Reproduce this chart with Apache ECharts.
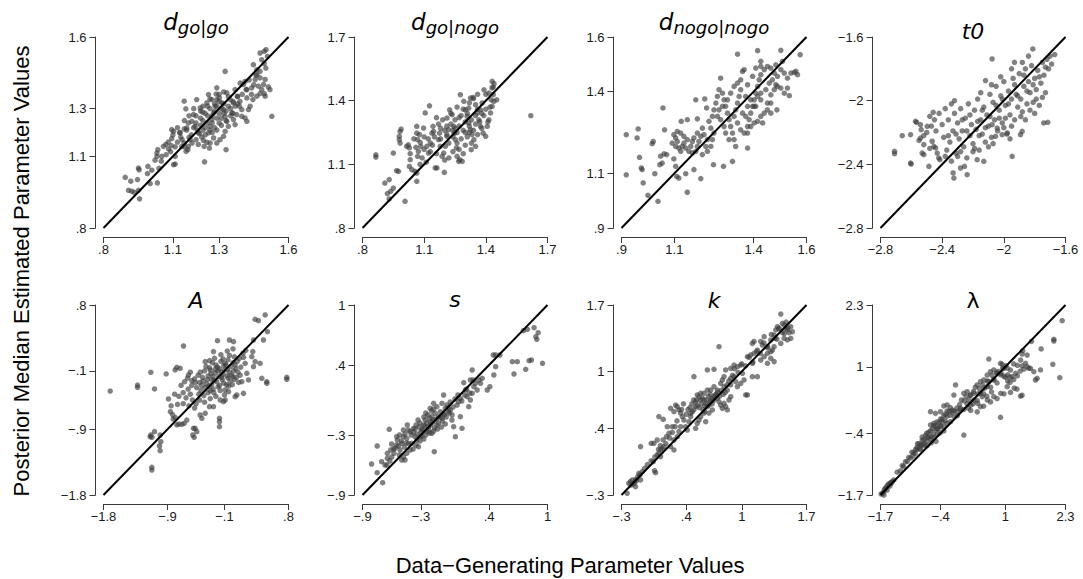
<!DOCTYPE html>
<html><head><meta charset="utf-8">
<script src="https://cdn.jsdelivr.net/npm/echarts@6/dist/echarts.min.js"></script>
<style>html,body{margin:0;padding:0;background:#fff}#c{width:1083px;height:579px}</style>
</head><body><div id="c"></div><script>
// ---------- tick labels ----------
const ticksDGoGo = [0.8, 1.1, 1.3, 1.6];
const ticksDGoNogo = [0.8, 1.1, 1.4, 1.7];
const ticksDNogoNogo = [0.9, 1.1, 1.4, 1.6];
const ticksT0 = [-2.8, -2.4, -2, -1.6];
const ticksA = [-1.8, -0.9, -0.1, 0.8];
const ticksS = [-0.9, -0.3, 0.4, 1];
const ticksK = [-0.3, 0.4, 1, 1.7];
const ticksLambda = [-1.7, -0.4, 1, 2.3];

// ---------- panel titles ----------
const panelTitles = ['{m|d}{s|go|go}', '{m|d}{s|go|nogo}', '{m|d}{s|nogo|nogo}', '{i|t0}', '{i|A}', '{i|s}', '{i|k}', '{u|λ}'];
const xAxisTitle = 'Data\u2212Generating Parameter Values';
const yAxisTitle = 'Posterior Median Estimated Parameter Values';

// ---------- data: [data-generating, posterior median] ----------
const dGoGo = [[0.894,1.012],[0.918,0.996],[0.908,0.958],[0.922,0.954],[0.933,0.949],[0.956,0.922],[0.951,0.958],[0.947,1.003],[0.954,1.044],[0.951,1.051],[0.990,1.028],[1.002,0.986],[1.033,0.989],[0.992,1.058],[1.009,1.042],[1.023,1.084],[1.031,1.100],[1.035,1.128],[1.031,1.114],[1.052,1.100],[1.059,1.142],[1.071,1.107],[1.081,1.131],[1.093,1.145],[1.095,1.174],[1.103,1.205],[1.095,1.212],[1.110,1.068],[1.103,1.065],[1.110,1.100],[1.134,1.181],[1.131,1.198],[1.139,1.142],[1.149,1.156],[1.157,1.121],[1.165,1.128],[1.167,1.142],[1.175,1.170],[1.183,1.156],[1.160,1.219],[1.149,1.215],[1.149,1.331],[1.156,1.299],[1.203,1.338],[1.218,1.303],[1.229,1.285],[1.189,1.275],[1.182,1.247],[1.167,1.240],[1.196,1.226],[1.206,1.209],[1.215,1.195],[1.225,1.181],[1.232,1.167],[1.235,1.142],[1.247,1.159],[1.254,1.198],[1.261,1.226],[1.268,1.254],[1.276,1.282],[1.283,1.310],[1.290,1.338],[1.301,1.345],[1.312,1.324],[1.319,1.296],[1.326,1.268],[1.333,1.247],[1.340,1.226],[1.326,1.205],[1.319,1.184],[1.304,1.170],[1.290,1.156],[1.276,1.177],[1.261,1.156],[1.258,1.135],[1.237,1.077],[1.330,1.128],[1.326,1.456],[1.290,1.387],[1.254,1.359],[1.247,1.324],[1.268,1.338],[1.287,1.361],[1.333,1.366],[1.348,1.338],[1.362,1.324],[1.369,1.380],[1.379,1.352],[1.388,1.310],[1.398,1.296],[1.391,1.407],[1.405,1.401],[1.412,1.414],[1.417,1.380],[1.420,1.345],[1.427,1.296],[1.434,1.310],[1.355,1.282],[1.362,1.254],[1.369,1.233],[1.376,1.275],[1.398,1.268],[1.412,1.261],[1.420,1.247],[1.441,1.387],[1.456,1.422],[1.463,1.442],[1.470,1.394],[1.477,1.429],[1.484,1.380],[1.492,1.401],[1.499,1.422],[1.477,1.456],[1.448,1.484],[1.463,1.463],[1.484,1.505],[1.495,1.489],[1.502,1.470],[1.477,1.533],[1.495,1.540],[1.503,1.547],[1.509,1.519],[1.499,1.352],[1.513,1.391],[1.520,1.380],[1.495,1.363],[1.446,1.338],[1.463,1.352],[1.477,1.363],[1.528,1.268],
[1.18,1.19],[1.19,1.22],[1.20,1.24],[1.21,1.20],[1.22,1.23],[1.22,1.26],[1.23,1.21],[1.23,1.25],[1.24,1.22],[1.24,1.28],[1.25,1.24],[1.25,1.27],[1.26,1.21],[1.26,1.30],[1.27,1.24],[1.27,1.27],[1.28,1.22],[1.28,1.29],[1.29,1.26],[1.29,1.31],[1.30,1.24],[1.30,1.28],[1.31,1.30],[1.31,1.26],[1.32,1.28],[1.32,1.32],[1.33,1.29],[1.34,1.31],[1.35,1.30],[1.36,1.33],[1.37,1.31],[1.38,1.35],[1.17,1.18],[1.16,1.21],[1.14,1.17],[1.13,1.20],[1.12,1.16],[1.20,1.17],[1.21,1.15],[1.24,1.19],[1.27,1.20],[1.29,1.21],[1.31,1.23],[1.33,1.25],[1.35,1.27],[1.28,1.32],[1.30,1.33],[1.25,1.31],[1.22,1.29],[1.20,1.27],[1.39,1.33],[1.40,1.36],[1.42,1.38],[1.44,1.36],[1.45,1.40],[1.46,1.44],[1.43,1.42],[1.09,1.12],[1.07,1.15],[1.05,1.08],[1.04,1.05],[1.11,1.14],[1.15,1.14],[1.36,1.28],[1.38,1.32],[1.34,1.35],[1.32,1.37],[1.30,1.36],[1.26,1.34],[1.23,1.31],[1.19,1.30],[1.17,1.27],[1.15,1.25],[1.12,1.22],[1.10,1.19],[1.08,1.16]];

const dGoNogo = [[0.865,1.145],[0.865,1.134],[0.909,1.012],[0.930,1.028],[0.937,0.973],[0.921,0.962],[0.930,0.937],[0.950,0.988],[0.966,1.070],[0.975,1.067],[1.007,0.926],[0.950,1.153],[0.979,1.232],[0.979,1.216],[0.983,1.200],[0.988,1.266],[0.983,1.255],[1.015,1.185],[1.023,1.192],[1.028,1.177],[1.032,1.150],[1.032,1.122],[1.028,1.090],[1.040,1.075],[1.056,1.067],[1.064,1.059],[1.064,1.020],[1.068,1.138],[1.072,1.161],[1.068,1.216],[1.064,1.279],[1.064,1.247],[1.077,1.240],[1.081,1.203],[1.084,1.185],[1.097,1.271],[1.100,1.229],[1.105,1.342],[1.126,1.376],[1.113,1.185],[1.121,1.153],[1.130,1.200],[1.138,1.247],[1.143,1.279],[1.146,1.255],[1.154,1.083],[1.162,1.083],[1.170,1.216],[1.175,1.247],[1.178,1.185],[1.187,1.138],[1.198,1.062],[1.195,1.153],[1.203,1.185],[1.211,1.232],[1.219,1.263],[1.211,1.318],[1.224,1.357],[1.236,1.334],[1.244,1.279],[1.247,1.247],[1.252,1.216],[1.257,1.177],[1.260,1.138],[1.268,1.114],[1.273,1.122],[1.285,1.114],[1.276,1.428],[1.293,1.397],[1.301,1.357],[1.309,1.326],[1.317,1.295],[1.325,1.263],[1.333,1.240],[1.342,1.216],[1.350,1.185],[1.329,1.169],[1.317,1.365],[1.325,1.412],[1.338,1.415],[1.350,1.381],[1.358,1.342],[1.366,1.310],[1.374,1.279],[1.387,1.247],[1.399,1.232],[1.407,1.279],[1.415,1.310],[1.423,1.342],[1.431,1.373],[1.426,1.404],[1.436,1.428],[1.439,1.397],[1.431,1.491],[1.436,1.464],[1.415,1.436],[1.453,1.404],[1.391,1.451],[1.382,1.389],[1.374,1.357],[1.619,1.329],
[1.18,1.22],[1.20,1.26],[1.22,1.20],[1.23,1.29],[1.24,1.23],[1.25,1.31],[1.26,1.25],[1.26,1.20],[1.27,1.28],[1.28,1.22],[1.28,1.33],[1.29,1.26],[1.30,1.30],[1.30,1.19],[1.31,1.23],[1.31,1.34],[1.32,1.28],[1.33,1.31],[1.33,1.20],[1.34,1.26],[1.35,1.33],[1.36,1.24],[1.36,1.36],[1.37,1.30],[1.38,1.27],[1.39,1.33],[1.40,1.36],[1.41,1.30],[1.42,1.37],[1.27,1.17],[1.29,1.15],[1.24,1.16],[1.22,1.13],[1.20,1.12],[1.16,1.15],[1.14,1.19],[1.12,1.22],[1.10,1.17],[1.09,1.13],[1.08,1.10],[1.06,1.18],[1.05,1.22],[1.17,1.29],[1.19,1.31],[1.21,1.28],[1.23,1.34],[1.26,1.37],[1.29,1.36],[1.32,1.39],[1.34,1.41],[1.36,1.43],[1.21,1.24],[1.25,1.27],[1.32,1.25],[1.35,1.29],[1.38,1.34],[1.30,1.25],[1.27,1.32],[1.24,1.26],[1.18,1.27],[1.15,1.23],[1.13,1.16],[1.11,1.11],[1.16,1.32],[1.40,1.43],[1.43,1.46],[1.44,1.48]];

const dNogoNogo = [[0.918,1.242],[0.918,1.095],[0.963,1.263],[0.959,1.230],[0.968,1.159],[0.978,1.114],[0.975,1.120],[0.982,1.065],[1.000,1.020],[1.038,0.998],[1.026,1.099],[1.020,1.217],[1.016,1.209],[1.045,1.132],[1.054,1.138],[1.048,1.163],[1.061,1.172],[1.071,1.169],[1.057,1.340],[1.063,1.260],[1.098,1.242],[1.105,1.230],[1.111,1.217],[1.098,1.153],[1.105,1.126],[1.109,1.089],[1.117,1.083],[1.143,1.099],[1.149,1.031],[1.126,1.291],[1.149,1.297],[1.187,1.300],[1.181,1.370],[1.215,1.373],[1.222,1.340],[1.206,1.266],[1.200,1.081],[1.174,1.114],[1.248,1.132],[1.286,1.126],[1.320,1.144],[1.377,1.193],[1.275,1.449],[1.339,1.537],[1.415,1.550],[1.427,1.511],[1.503,1.551],[1.576,1.535],[1.554,1.470],[1.566,1.462],[1.535,1.385],[1.488,1.333],[1.465,1.358],
[1.092,1.211],[1.105,1.199],[1.117,1.193],[1.124,1.181],[1.130,1.199],[1.136,1.211],[1.143,1.193],[1.155,1.181],[1.162,1.199],[1.168,1.217],[1.174,1.230],[1.149,1.224],[1.136,1.236],[1.124,1.248],[1.111,1.254],[1.168,1.175],[1.181,1.181],[1.187,1.199],[1.193,1.217],[1.200,1.236],[1.187,1.248],[1.212,1.242],[1.225,1.224],[1.219,1.199],[1.206,1.169],[1.225,1.181],[1.238,1.199],[1.244,1.224],[1.250,1.248],[1.238,1.266],[1.231,1.291],[1.244,1.309],[1.250,1.333],[1.257,1.358],[1.263,1.382],[1.269,1.407],[1.282,1.394],[1.288,1.370],[1.294,1.346],[1.301,1.321],[1.307,1.297],[1.313,1.272],[1.320,1.248],[1.326,1.224],[1.332,1.199],[1.307,1.224],[1.294,1.248],[1.288,1.272],[1.275,1.297],[1.263,1.309],[1.269,1.333],[1.282,1.346],[1.301,1.370],[1.313,1.394],[1.326,1.419],[1.339,1.431],[1.351,1.443],[1.358,1.474],[1.364,1.480],[1.351,1.407],[1.345,1.382],[1.339,1.358],[1.332,1.333],[1.326,1.309],[1.339,1.285],[1.351,1.260],[1.364,1.248],[1.377,1.272],[1.383,1.297],[1.389,1.321],[1.396,1.346],[1.402,1.370],[1.408,1.394],[1.415,1.419],[1.421,1.443],[1.427,1.462],[1.440,1.480],[1.452,1.492],[1.465,1.486],[1.478,1.468],[1.490,1.456],[1.503,1.480],[1.516,1.468],[1.528,1.449],[1.541,1.468],[1.560,1.474],[1.490,1.419],[1.478,1.407],[1.465,1.388],[1.452,1.358],[1.440,1.321],[1.427,1.309],[1.415,1.291],[1.402,1.285],[1.389,1.272],[1.377,1.248],[1.370,1.309],[1.358,1.321],[1.377,1.346],[1.389,1.370],[1.402,1.346],[1.427,1.370],[1.446,1.407],[1.459,1.431],[1.471,1.443],[1.484,1.425],[1.503,1.413],[1.516,1.394],[1.528,1.413],[1.427,1.394],[1.415,1.382],[1.465,1.321],[1.452,1.333],[1.434,1.285],[1.408,1.346],[1.370,1.382],[1.377,1.425],[1.396,1.456],[1.408,1.486],[1.427,1.492],[1.484,1.498],[1.509,1.511]];

const t0 = [[-2.709,-2.318],[-2.709,-2.333],[-2.659,-2.220],[-2.605,-2.214],[-2.605,-2.392],[-2.601,-2.398],[-2.573,-2.130],[-2.566,-2.136],[-2.541,-2.151],[-2.536,-2.182],[-2.541,-2.235],[-2.519,-2.276],[-2.530,-2.329],[-2.519,-2.339],[-2.497,-2.161],[-2.486,-2.413],[-2.480,-2.098],[-2.458,-2.073],[-2.465,-2.255],[-2.454,-2.287],[-2.443,-2.297],[-2.432,-2.329],[-2.422,-2.360],[-2.415,-2.371],
[-2.40,-2.15],[-2.39,-2.23],[-2.37,-2.31],[-2.36,-2.12],[-2.35,-2.26],[-2.33,-2.19],[-2.32,-2.08],[-2.31,-2.33],[-2.30,-2.14],[-2.29,-2.24],[-2.28,-2.05],[-2.27,-2.19],[-2.26,-2.29],[-2.25,-2.11],[-2.24,-2.36],[-2.23,-2.02],[-2.22,-2.22],[-2.21,-2.15],[-2.20,-2.27],[-2.19,-2.06],[-2.18,-2.18],[-2.17,-1.99],[-2.16,-2.31],[-2.15,-2.12],[-2.14,-2.21],[-2.13,-2.04],[-2.12,-2.26],[-2.11,-2.09],[-2.10,-2.16],[-2.09,-1.96],[-2.08,-2.23],[-2.07,-2.01],[-2.06,-2.12],[-2.05,-1.91],[-2.04,-2.19],[-2.03,-2.06],[-2.02,-1.97],[-2.01,-2.14],[-2.00,-1.88],[-1.99,-2.03],[-1.98,-2.21],[-1.97,-1.94],[-1.96,-2.09],[-1.95,-1.99],[-1.94,-1.86],[-1.93,-2.12],[-1.92,-1.96],[-1.91,-2.04],[-1.90,-1.83],[-1.89,-1.99],[-1.88,-2.07],[-1.87,-1.91],[-1.86,-1.80],[-1.85,-2.02],[-1.84,-1.88],[-1.83,-1.95],[-1.82,-1.78],[-1.81,-2.01],[-1.80,-1.86],[-1.79,-1.93],[-1.78,-1.81],[-1.77,-2.03],[-1.76,-1.89],[-1.75,-1.76],[-1.74,-1.84],[-1.73,-1.95],[-1.72,-1.74],[-1.71,-1.80],[-1.70,-1.72],[-1.69,-1.77],[-1.67,-1.71],
[-2.329,-2.454],[-2.324,-2.486],[-2.238,-2.465],[-2.255,-2.413],[-2.281,-2.423],[-2.173,-2.371],[-2.130,-2.381],[-1.946,-2.350],[-1.892,-2.214],[-1.881,-2.193],[-1.741,-2.140],[-1.715,-2.136],[-2.011,-2.214],[-1.978,-2.203],[-2.076,-2.151],[-2.054,-2.224],[-2.043,-2.172],[-2.119,-1.874],[-2.076,-1.738],[-1.812,-1.675],[-1.931,-1.759],[-2.320,-2.000],
[-2.38,-2.05],[-2.34,-2.02],[-2.31,-2.21],[-2.27,-2.12],[-2.24,-2.19],[-2.22,-2.09],[-2.19,-2.30],[-2.17,-2.13],[-2.14,-2.06],[-2.12,-2.17],[-2.09,-2.10],[-2.07,-2.27],[-2.05,-2.03],[-2.03,-2.11],[-2.01,-1.99],[-1.99,-2.11],[-1.97,-2.02],[-1.95,-2.16],[-1.93,-1.90],[-1.91,-1.97],[-1.89,-2.10],[-1.87,-1.84],[-1.85,-1.94],[-1.83,-2.06],[-1.81,-1.90],[-1.79,-1.99],[-1.77,-1.85],[-1.75,-1.98],[-1.73,-1.79],[-2.50,-2.20],[-2.47,-2.16],[-2.45,-2.12],[-2.52,-2.22],[-2.48,-2.30],[-2.55,-2.25],[-2.38,-2.35],[-2.34,-2.38],[-2.30,-2.35],[-2.20,-2.32],[-2.44,-2.19],[-2.42,-2.08],[-2.36,-2.22],[-2.28,-2.32],[-2.16,-2.22],[-2.10,-2.29],[-2.00,-2.17],[-1.96,-2.24],[-1.86,-2.12],[-1.80,-2.08],[-2.15,-1.95],[-2.08,-1.90],[-2.02,-1.85],[-1.95,-1.80],[-1.88,-1.76],[-1.84,-1.72]];

const paramA = [[-1.706,-0.377],[-1.322,-0.295],[-1.322,-0.326],[-1.135,-0.121],[-1.083,-0.349],[-0.919,-0.144],[-0.676,0.239],[-0.606,-0.158],[-0.559,-0.235],[-0.770,-0.053],[-0.793,-0.089],[-0.723,-0.066],[-0.887,-0.486],[-0.86,-0.66],[-0.83,-0.70],[-0.82,-0.76],[-0.79,-0.74],[-0.77,-0.84],[-0.74,-0.83],[-0.699,-0.833],[-0.667,-0.819],[-0.629,-0.774],[-1.135,-0.979],[-1.144,-1.002],[-1.121,-1.011],[-1.083,-0.933],[-1.004,-0.979],[-0.994,-1.070],[-1.013,-1.129],[-1.004,-1.193],[-1.121,-1.421],[-1.121,-1.458],[-0.535,-0.888],[-0.545,-0.979],[-0.526,-1.011],[-0.489,-0.933],[-0.512,-0.888],[-0.442,-0.705],[-0.418,-0.751],[-0.371,-0.683],[-0.311,-0.591],[-0.254,-0.591],[-0.170,-0.751],[-0.170,-0.796],[-0.170,-0.865],[-0.114,-0.523],[-0.090,-0.500],[-0.044,-0.386],[0.050,-0.454],[0.074,-0.431],[0.167,-0.409],[-0.371,0.025],[-0.254,0.162],[-0.198,0.312],[-0.030,0.321],[0.027,0.299],[0.167,0.084],[0.191,0.002],[0.308,0.321],[0.298,0.162],[0.331,0.604],[0.378,0.586],[0.472,0.664],[0.504,0.435],[0.448,0.321],[0.425,-0.203],[0.495,-0.249],[0.495,-0.272],[0.776,-0.190],[0.776,-0.217],[0.308,-0.044],[0.331,0.025],[0.401,0.002],[0.284,0.093],[0.214,-0.135],[0.237,-0.226],[0.144,-0.249],
[-0.52,-0.21],[-0.47,-0.16],[-0.44,-0.12],[-0.38,-0.10],[-0.36,-0.04],[-0.31,-0.06],[-0.27,0.01],[-0.22,-0.02],[-0.15,0.03],[-0.12,0.06],[-0.05,0.05],[-0.03,0.11],[0.04,0.09],[-0.49,-0.33],[-0.45,-0.26],[-0.40,-0.24],[-0.33,-0.17],[-0.29,-0.14],[-0.26,-0.18],[-0.19,-0.10],[-0.17,-0.07],[-0.10,-0.09],[-0.08,-0.02],[-0.01,-0.04],[0.02,0.01],[0.08,0.03],[0.11,0.07],[-0.43,-0.37],[-0.37,-0.33],[-0.35,-0.28],[-0.28,-0.29],[-0.24,-0.23],[-0.21,-0.25],[-0.14,-0.19],[-0.12,-0.15],[-0.06,-0.17],[-0.03,-0.12],[0.03,-0.10],[0.06,-0.07],[0.13,-0.05],[-0.39,-0.44],[-0.33,-0.40],[-0.30,-0.37],[-0.26,-0.35],[-0.19,-0.32],[-0.17,-0.30],[-0.11,-0.27],[-0.07,-0.29],[-0.02,-0.24],[0.04,-0.22],[0.07,-0.19],[0.12,-0.16],[-0.41,-0.19],[-0.34,-0.22],[-0.30,-0.09],[-0.23,-0.13],[-0.20,-0.05],[-0.14,-0.12],[-0.09,0.00],[-0.06,-0.08],[0.00,-0.16],[0.05,-0.02],[0.09,-0.12],[-0.56,-0.30],[-0.51,-0.26],[-0.46,-0.42],[-0.42,-0.30],[-0.32,-0.31],[-0.25,-0.40],[-0.16,-0.37],[-0.09,-0.36],[-0.04,-0.31],[0.01,-0.29],[0.10,-0.26],[-0.28,-0.22],[-0.18,-0.18],[-0.13,-0.22],[-0.05,-0.20],[0.02,-0.18],[-0.23,-0.08],[-0.11,-0.03],[-0.58,-0.42],[-0.61,-0.35],[-0.64,-0.47],[-0.68,-0.40],[-0.71,-0.30],[-0.74,-0.45],[-0.55,-0.50],[-0.50,-0.55],[-0.45,-0.50],[-0.38,-0.53],[-0.30,-0.48],[-0.22,-0.45],[-0.16,-0.50],[-0.10,-0.43],[-0.62,-0.20],[-0.58,-0.12],[-0.66,-0.25],[-0.80,-0.42],[-0.85,-0.58],[-0.76,-0.56],[-0.68,-0.55],[-0.60,-0.58],[-0.52,-0.61],[0.16,0.14],[0.20,0.18],[0.02,0.20],[-0.06,0.17],[-0.15,0.12],[-0.24,0.07],[-0.31,0.04]];

const paramS = [[-0.807,-0.590],[-0.749,-0.677],[-0.693,-0.777],[-0.749,-0.410],[-0.704,-0.567],[-0.669,-0.600],[-0.645,-0.533],[-0.645,-0.483],[-0.625,-0.243],[-0.611,-0.450],[-0.601,-0.390],[-0.576,-0.483],[-0.566,-0.433],[-0.549,-0.317],[-0.542,-0.350],[-0.532,-0.410],[-0.521,-0.500],[-0.497,-0.550],[-0.480,-0.517],[-0.514,-0.450],[-0.497,-0.383],[-0.480,-0.317],[-0.463,-0.290],[-0.446,-0.333],[-0.428,-0.383],[-0.411,-0.450],[-0.446,-0.483],[-0.463,-0.550],[-0.411,-0.267],[-0.377,-0.233],[-0.360,-0.317],[-0.342,-0.350],[-0.394,-0.383],[-0.325,-0.417],[-0.308,-0.317],[-0.291,-0.250],[-0.273,-0.200],[-0.256,-0.150],[-0.239,-0.267],[-0.222,-0.217],[-0.205,-0.167],[-0.187,-0.117],[-0.170,-0.150],[-0.153,-0.083],[-0.136,-0.200],[-0.187,-0.283],[-0.163,-0.467],[-0.119,-0.117],[-0.101,-0.067],[-0.084,-0.133],[-0.067,-0.083],[-0.050,-0.033],[-0.033,0.000],[-0.015,-0.067],[0.002,-0.050],[0.019,-0.150],[0.036,-0.217],[0.054,-0.317],[0.071,0.000],[0.088,0.033],[0.105,0.067],[-0.067,0.100],[-0.084,0.017],[-0.136,-0.017],[-0.170,0.017],[-0.205,-0.033],[0.105,-0.117],[0.122,-0.233],[0.140,0.223],[0.157,0.150],[0.174,0.083],[0.191,-0.017],[0.208,0.050],[0.226,0.117],[0.243,0.183],[0.226,0.350],[0.236,0.250],[0.260,0.217],[0.277,0.150],[0.294,0.250],[0.312,0.217],[0.329,0.267],[0.208,0.250],[0.408,0.183],[0.443,0.500],[0.467,0.500],[0.511,0.500],[0.467,0.383],[0.639,0.433],[0.656,0.310],[0.690,0.433],[0.776,0.357],[0.811,0.443],[0.835,0.450],[0.949,0.417],[0.752,0.743],[0.794,0.757],[0.862,0.773],[0.904,0.723],[0.880,0.683],[0.890,0.657],[0.449,0.300],[0.381,0.150],
[-0.40,-0.30],[-0.38,-0.27],[-0.36,-0.24],[-0.34,-0.29],[-0.32,-0.22],[-0.30,-0.27],[-0.28,-0.24],[-0.26,-0.21],[-0.24,-0.18],[-0.22,-0.25],[-0.20,-0.20],[-0.18,-0.17],[-0.16,-0.23],[-0.14,-0.14],[-0.12,-0.18],[-0.10,-0.12],[-0.08,-0.16],[-0.06,-0.10],[-0.04,-0.12],[-0.02,-0.03],[-0.27,-0.12],[-0.25,-0.08],[-0.23,-0.10],[-0.21,-0.13],[-0.19,-0.06],[-0.17,-0.04],[-0.31,-0.18],[-0.33,-0.15],[-0.35,-0.20],[-0.29,-0.31],[-0.25,-0.30],[-0.21,-0.28],[-0.17,-0.26],[-0.13,-0.24],[-0.09,-0.22],[-0.05,-0.19],[-0.43,-0.25],[-0.45,-0.38],[-0.47,-0.42],[-0.50,-0.36],[-0.52,-0.30],[-0.55,-0.40],[-0.58,-0.44],[-0.60,-0.52],[-0.62,-0.56],[-0.65,-0.60],[-0.38,-0.44],[-0.35,-0.40],[-0.31,-0.36],[-0.27,-0.34],[0.00,0.03],[0.03,-0.02],[0.05,0.06],[0.08,0.10],[0.12,0.04],[0.15,0.10],[0.17,0.16],[0.20,0.12],[0.02,-0.10],[-0.01,-0.08],[-0.44,-0.20],[-0.48,-0.25]];

const paramK = [[-0.239,-0.282],[-0.221,-0.177],[-0.203,-0.160],[-0.184,-0.142],[-0.174,-0.184],[-0.159,-0.170],[-0.148,-0.135],[-0.138,-0.149],[-0.123,-0.107],[-0.112,-0.072],[-0.101,-0.089],[-0.094,-0.142],[-0.148,-0.212],[-0.195,-0.195],[-0.076,-0.054],[-0.094,0.209],[0.021,0.244],[0.050,0.244],[0.086,0.279],[0.043,0.051],[0.057,-0.044],[0.068,-0.065],[0.086,0.121],[0.104,0.139],[0.122,0.174],[0.140,0.191],[0.122,0.104],[0.158,0.209],[0.187,0.314],[0.104,0.525],[0.151,0.496],[0.195,0.419],[0.213,0.349],[0.231,0.612],[0.249,0.419],[0.267,0.577],[0.285,0.647],[0.303,0.630],[0.321,0.595],[0.339,0.563],[0.357,0.525],[0.267,0.279],[0.303,0.314],[0.321,0.367],[0.339,0.419],[0.231,0.209],[0.267,0.174],[0.375,0.489],[0.393,0.419],[0.411,0.384],[0.429,0.472],[0.447,0.525],[0.465,0.577],[0.483,0.595],[0.501,0.630],[0.512,0.700],[0.519,0.753],[0.538,0.735],[0.556,0.770],[0.574,0.718],[0.592,0.700],[0.610,0.665],[0.628,0.630],[0.646,0.647],[0.664,0.700],[0.682,0.718],[0.700,0.735],[0.718,0.753],[0.736,0.718],[0.754,0.682],[0.772,0.647],[0.790,0.612],[0.808,0.665],[0.826,0.630],[0.844,0.595],[0.862,0.700],[0.881,0.735],[0.844,0.805],[0.808,0.840],[0.790,0.911],[0.772,0.875],[0.736,0.805],[0.700,0.840],[0.664,0.805],[0.628,0.805],[0.592,0.770],[0.556,0.700],[0.538,0.489],[0.519,0.454],[0.501,0.402],[0.556,0.525],[0.592,0.563],[0.646,0.563],[0.682,0.595],[0.610,0.472],[0.754,1.261],[0.628,1.016],[0.700,1.023],[0.483,0.946],[0.808,0.946],[0.826,1.016],[0.881,1.033],[0.917,1.068],[0.953,1.051],[0.989,1.068],[1.007,0.981],[0.917,0.946],[0.881,0.928],[0.935,0.893],[0.953,0.840],[0.989,0.875],[1.025,0.911],[1.043,0.753],[1.061,0.753],[1.115,0.946],[1.169,0.946],[1.115,1.086],[1.061,1.156],[1.097,1.174],[1.133,1.191],[1.169,1.226],[1.205,1.121],[1.242,1.156],[1.278,1.191],[1.314,1.209],[1.223,1.279],[1.205,1.316],[1.133,1.316],[1.115,1.296],[1.242,1.367],[1.278,1.261],[1.314,1.332],[1.350,1.384],[1.368,1.437],[1.386,1.472],[1.404,1.454],[1.422,1.605],[1.440,1.507],[1.458,1.489],[1.476,1.454],[1.494,1.437],[1.512,1.409],[1.530,1.472],[1.548,1.419],[1.530,1.349],[1.494,1.332],[1.458,1.349],[1.422,1.296],[1.350,1.261],[1.332,1.226],[1.350,1.104],[1.278,1.086],[1.314,1.139],
[0.40,0.55],[0.42,0.60],[0.44,0.62],[0.46,0.66],[0.48,0.70],[0.50,0.68],[0.52,0.64],[0.54,0.62],[0.56,0.66],[0.58,0.60],[0.60,0.58],[0.62,0.70],[0.64,0.74],[0.66,0.68],[0.68,0.66],[0.70,0.70],[0.72,0.76],[0.74,0.78],[0.76,0.74],[0.78,0.80],[0.80,0.76],[0.82,0.78],[0.84,0.86],[0.86,0.90],[0.88,0.86],[0.90,0.96],[0.92,1.03],[0.96,0.99],[1.00,1.08],[1.04,1.06],[1.08,1.15],[1.12,1.10],[1.16,1.21],[1.20,1.19],[1.24,1.30],[1.28,1.25],[1.32,1.39],[1.36,1.35],[1.40,1.45],[1.44,1.41],[1.48,1.52],[1.50,1.46],[1.46,1.40],[1.38,1.34],[0.30,0.48],[0.28,0.42],[0.25,0.36],[0.22,0.30],[0.18,0.24],[0.15,0.28],[0.12,0.22],[0.10,0.18],[0.06,0.10],[0.02,0.06],[-0.02,0.02],[-0.05,-0.02],[0.35,0.60],[0.37,0.66],[0.45,0.56],[0.60,0.64],[0.66,0.76]];

const paramLambda = [[-1.686,-1.679],[-1.657,-1.665],[-1.628,-1.630],[-1.614,-1.581],[-1.592,-1.560],[-1.570,-1.525],[-1.541,-1.489],[-1.520,-1.468],[-1.484,-1.440],[-1.448,-1.419],[-1.412,-1.384],[-1.628,-1.700],[-1.556,-1.595],[-1.498,-1.511],[-1.469,-1.454],
[-1.34,-1.22],[-1.27,-1.19],[-1.23,-1.08],[-1.20,-1.10],[-1.16,-1.00],[-1.12,-0.99],[-1.09,-0.91],[-1.05,-0.92],[-1.02,-0.80],[-0.98,-0.81],[-0.94,-0.74],[-0.91,-0.70],[-0.87,-0.62],[-0.84,-0.66],[-0.80,-0.55],[-0.76,-0.54],[-0.73,-0.45],[-0.69,-0.49],[-0.66,-0.38],[-0.62,-0.35],[-0.58,-0.31],[-0.55,-0.24],[-0.51,-0.25],[-0.48,-0.16],[-0.44,-0.18],[-0.40,-0.10],[-0.37,-0.11],[-0.33,-0.03],[-0.30,0.00],[-0.26,0.07],[-0.22,0.06],[-0.19,0.14],
[-0.84,-0.74],[-0.77,-0.66],[-0.69,-0.66],[-0.62,-0.52],[-0.55,-0.49],[-0.47,-0.42],[-0.41,-0.39],[-0.33,-0.35],[-0.619,-0.226],[-0.547,-0.191],[-0.475,-0.296],[-0.403,-0.261],[-0.331,-0.261],[-0.259,-0.191],[-0.186,-0.156],
[-0.11,-0.05],[-0.04,-0.03],[0.03,0.09],[0.10,0.10],[0.17,0.22],[0.25,0.19],[0.32,0.30],[0.39,0.29],[0.46,0.44],[0.53,0.43],[0.61,0.58],[0.68,0.57],[0.75,0.72],[0.82,0.66],[0.90,0.83],[0.97,0.80],[1.04,0.97],[1.11,0.93],[1.18,1.06],[1.26,1.03],[1.33,1.14],
[-0.619,0.054],[-0.511,0.019],[-0.403,0.054],[-0.331,0.174],[-0.259,0.195],[-0.114,0.405],[-0.078,0.616],[-0.150,0.089],[-0.042,0.054],[0.030,0.125],[0.102,0.440],[0.174,0.475],[0.246,0.405],[0.318,0.440],[0.390,0.616],[0.462,0.686],[0.534,0.721],[0.606,0.826],[0.642,1.163],[0.678,0.896],[0.751,0.932],[0.823,0.861],[0.895,1.072],[0.931,1.051],[0.967,0.967],
[1.00,0.78],[1.05,0.70],[1.10,0.67],[1.19,0.55],[1.25,0.53],[1.33,0.38],[1.36,0.40],[0.895,-0.065],[0.102,-0.437],
[0.25,0.08],[0.39,0.05],[0.46,0.16],[0.53,0.17],[0.61,0.30],[0.68,0.26],[0.75,0.37],[0.82,0.33],[0.90,0.44],[0.97,0.43],[1.04,0.58],
[1.11,0.46],[1.18,0.73],[1.26,0.81],[1.32,0.91],[1.40,0.95],[1.471,1.002],[1.363,1.016],[1.507,0.967],[1.543,0.967],[1.651,0.721],[1.687,0.756],[1.615,0.896],[1.759,0.932],[1.774,1.374],[1.565,1.532],[1.377,1.339],[1.363,1.268],[1.471,1.247],[2.026,1.051],[2.177,0.770],[2.048,1.577],[2.048,1.542],[2.228,1.970],[1.435,1.072],[1.219,0.861],[1.147,0.791],
[-1.00,-0.88],[-0.95,-0.83],[-0.91,-0.74],[-0.85,-0.72],[-0.81,-0.64],[-0.75,-0.63],[-0.70,-0.57],[-0.66,-0.48],[-0.60,-0.47],[-0.55,-0.42],[-0.50,-0.33],[-0.46,-0.31],[-0.40,-0.24],[-0.36,-0.16],[-0.30,-0.14],[-0.26,-0.04],[-0.20,-0.02],[-0.15,0.04],[-0.11,0.07],[-0.05,0.13],[0.01,0.20],[0.05,0.30],[0.11,0.28],[0.15,0.37],[0.21,0.30],[0.24,0.40],[0.31,0.48],[0.35,0.57],[0.41,0.43],[0.44,0.54],[0.51,0.62],[0.55,0.55],[0.61,0.70],[0.64,0.69],[0.71,0.82],[0.75,0.74],[0.81,0.87],[0.84,0.90],[0.91,0.86],[0.94,0.97],[1.01,1.02],[1.05,0.83],[1.10,0.78],[0.70,0.47],[0.60,0.38],[0.50,0.37],[0.40,0.23],[0.30,0.22],[0.20,0.13],[-0.70,-0.40],[-0.80,-0.48],[-0.90,-0.62],[-0.60,-0.60],[-0.50,-0.57]];

// ---------- assembly ----------
const panelData = [dGoGo, dGoNogo, dNogoNogo, t0, paramA, paramS, paramK, paramLambda];
const panelTicks = [ticksDGoGo, ticksDGoNogo, ticksDNogoNogo, ticksT0, ticksA, ticksS, ticksK, ticksLambda];

const FONT = '"Liberation Sans", Arial, Helvetica, sans-serif';
const TFONT = '"DejaVu Sans", "Liberation Sans", sans-serif';
const gridLefts = [103.5, 362.5, 621.5, 880.5];
const gridTops = [37, 305];
const gridHeights = [191, 190];
const titleY = [22, 22, 22, 31.5, 300.5, 299, 300.5, 300.5];

function fmt(v) {
  const a = Math.round(Math.abs(v) * 10) / 10;
  let s = String(a);
  if (s.indexOf('0.') === 0) s = s.slice(1);
  return (v < 0 ? '\u2212' : '') + s;
}

const grids = [], xAxes = [], yAxes = [], series = [], graphics = [];
panelData.forEach((data, i) => {
  const row = Math.floor(i / 4), col = i % 4;
  const ticks = panelTicks[i];
  const lo = ticks[0], hi = ticks[ticks.length - 1];
  grids.push({ left: gridLefts[col], top: gridTops[row], width: 185, height: gridHeights[row], containLabel: false, outerBoundsMode: 'none' });
  const axisCommon = {
    type: 'value', gridIndex: i, min: lo, max: hi, scale: true,
    axisLine: { show: true, onZero: false, lineStyle: { color: '#3a3a3a', width: 1 } },
    axisTick: { show: true, length: 6, customValues: ticks, lineStyle: { color: '#3a3a3a', width: 1 } },
    splitLine: { show: false },
    axisLabel: { customValues: ticks, formatter: fmt, color: '#1a1a1a', fontSize: 13, fontFamily: FONT }
  };
  xAxes.push(Object.assign({}, axisCommon, { position: 'bottom', offset: 9,
    axisLabel: Object.assign({}, axisCommon.axisLabel, { margin: 6 }) }));
  yAxes.push(Object.assign({}, axisCommon, { position: 'left', offset: 8,
    axisLabel: Object.assign({}, axisCommon.axisLabel, { margin: 9 }) }));
  series.push({ type: 'scatter', xAxisIndex: i, yAxisIndex: i, data: data, symbol: 'circle', symbolSize: 5.5,
    itemStyle: { color: 'rgba(62,62,62,0.82)' }, silent: true, z: 2 });
  series.push({ type: 'line', xAxisIndex: i, yAxisIndex: i, data: [[lo, lo], [hi, hi]], symbol: 'none',
    lineStyle: { color: '#000', width: 2 }, silent: true, z: 3 });
  graphics.push({ type: 'text', x: gridLefts[col] + 92.5, y: titleY[i], silent: true,
    style: { text: panelTitles[i], align: 'center', verticalAlign: 'middle',
      rich: {
        m: { fontSize: 23, fontStyle: 'italic', fontFamily: TFONT, fill: '#000', lineHeight: 28, verticalAlign: 'middle' },
        s: { fontSize: 18, fontStyle: 'italic', fontFamily: TFONT, fill: '#000', lineHeight: 18, verticalAlign: 'bottom' },
        i: { fontSize: 22, fontStyle: 'italic', fontFamily: TFONT, fill: '#000' },
        u: { fontSize: 22, fontFamily: TFONT, fill: '#000' }
      } } });
});

graphics.push({ type: 'text', x: 570, y: 565, silent: true,
  style: { text: xAxisTitle, align: 'center', verticalAlign: 'middle', fontSize: 22, fontFamily: FONT, fill: '#000' } });
graphics.push({ type: 'text', x: 21, y: 271, rotation: Math.PI / 2, silent: true,
  style: { text: yAxisTitle, align: 'center', verticalAlign: 'middle', fontSize: 22, fontFamily: FONT, fill: '#000' } });

const chart = echarts.init(document.getElementById('c'), null, { renderer: 'svg' });
chart.setOption({
  backgroundColor: '#fff', animation: false,
  grid: grids, xAxis: xAxes, yAxis: yAxes, series: series, graphic: graphics
});
</script></body></html>
